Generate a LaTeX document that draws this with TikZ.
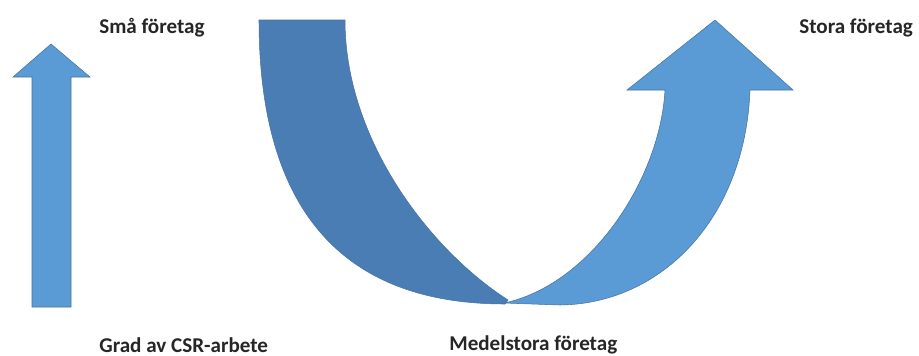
\documentclass[tikz,border=0pt]{standalone}
\usepackage{fontspec}
\setmainfont{Carlito}
\usepackage{xcolor}
\usepackage{tikz}
\usetikzlibrary{positioning}
\definecolor{pilljus}{HTML}{5B9BD5}
\definecolor{pilmork}{HTML}{4A7DB3}
\definecolor{kant}{HTML}{4472A4}

\begin{document}
\begin{tikzpicture}[x=0.02cm, y=-0.02cm, font=\fontsize{12}{14}\selectfont\bfseries,
  lbl/.style={anchor=west, inner sep=0pt, text=black!85},
  ljus/.style={fill=pilljus, draw=kant, line width=0.3pt, line join=miter},
  mork/.style={fill=pilmork, draw=kant, line width=0.3pt}]
\useasboundingbox (0,0) rectangle (919,355);
% texter
\node[lbl] (sma) at (99,28) {Små företag};
\node[lbl] (stora) at (799,28) {Stora företag};
\node[lbl] (grad) at (99,345) {Grad av CSR-arbete};
\node[lbl] (medel) at (449,345) {Medelstora företag};
% rak pil
\draw[ljus] (32,307) -- (32,77) -- (13,77) -- (51,44) -- (90,77) -- (71,77) -- (71,307) -- cycle;
% boejd pil, moerk del
\draw[mork] (259,20) -- (345,20) .. controls (345,140) and (430,250) .. (508,300)
  -- (505,304) .. controls (330,304) and (259,195) .. (259,20) -- cycle;
% boejd pil, ljus del
\draw[ljus] (504,303) .. controls (590,285) and (660,180) .. (665,90)
  -- (627,90) -- (715,20) -- (793,90) -- (750,90)
  .. controls (745,220) and (660,304) .. (560,305) -- cycle;
\end{tikzpicture}
\end{document}
